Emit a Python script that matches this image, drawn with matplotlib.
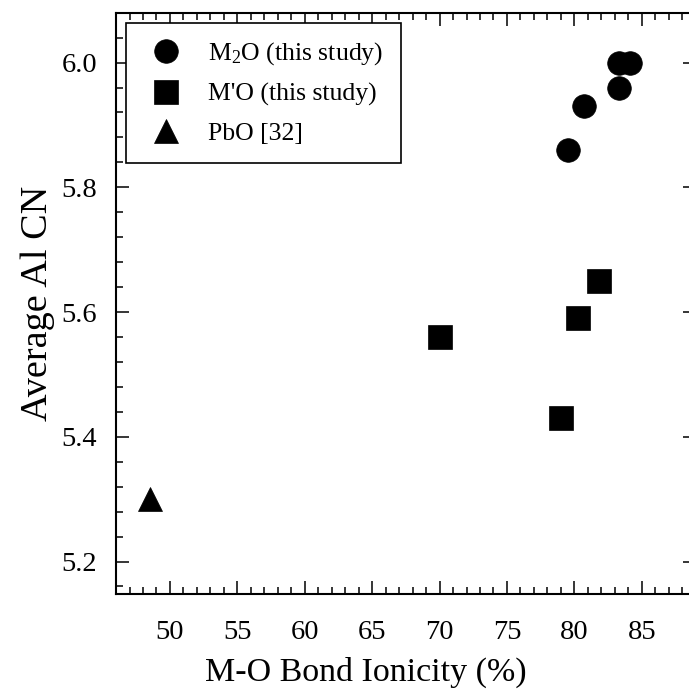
import matplotlib
matplotlib.use("Agg")
import matplotlib.pyplot as plt
from matplotlib.ticker import MultipleLocator, FormatStrFormatter

# Al coordination vs. M-O bond ionicity
m2o_ionicity = [79.5, 80.7, 83.3, 83.3, 84.1]
m2o_cn = [5.86, 5.93, 5.96, 6.00, 6.00]

mo_ionicity = [70.0, 80.3, 81.8, 79.0]
mo_cn = [5.56, 5.59, 5.65, 5.43]

pbo_ionicity = [48.5]
pbo_cn = [5.30]

plt.rcParams["font.family"] = ["Liberation Serif", "DejaVu Serif"]
plt.rcParams["mathtext.fontset"] = "stix"

fig = plt.figure(figsize=(6.89, 6.96), dpi=100)
ax = fig.add_axes([0.1684, 0.1466, 0.8413, 0.8352])

ms = 17
ax.plot(m2o_ionicity, m2o_cn, "o", color="black", ms=ms, mew=0.5,
        label=r"$\mathregular{M_2}$O (this study)")
ax.plot(mo_ionicity, mo_cn, "s", color="black", ms=ms, mew=0.5,
        label="M'O (this study)")
ax.plot(pbo_ionicity, pbo_cn, "^", color="black", ms=ms, mew=0.5,
        label="PbO [32]")

ax.set_xlim(46, 89)
ax.set_ylim(5.148, 6.08)

ax.xaxis.set_major_locator(MultipleLocator(5))
ax.xaxis.set_minor_locator(MultipleLocator(1))
ax.yaxis.set_major_locator(MultipleLocator(0.2))
ax.yaxis.set_minor_locator(MultipleLocator(0.04))
ax.yaxis.set_major_formatter(FormatStrFormatter("%.1f"))

ax.tick_params(which="both", direction="in", top=True, right=True,
               width=1.1, labelsize=20.5)
ax.tick_params(axis="x", which="both", pad=19)
ax.tick_params(axis="y", which="both", pad=13.5)
ax.tick_params(which="major", length=9.5)
ax.tick_params(which="minor", length=5)
for spine in ax.spines.values():
    spine.set_linewidth(1.5)

ax.set_xlabel("M-O Bond Ionicity (%)", fontsize=24.5)
# the plot frame runs past the right edge, so the label sits left of centre
ax.xaxis.set_label_coords(0.431, -0.108)
ax.set_ylabel("Average Al CN", fontsize=27.5, labelpad=5)

leg = ax.legend(loc="upper left", bbox_to_anchor=(0.017, 0.983),
                borderaxespad=0, fontsize=18.5, frameon=True, fancybox=False,
                edgecolor="black", framealpha=1, numpoints=1,
                handlelength=1.7, handletextpad=0.8, labelspacing=0.6,
                borderpad=0.7)
leg.get_frame().set_linewidth(1.2)

fig.savefig("out.png", dpi=100)
